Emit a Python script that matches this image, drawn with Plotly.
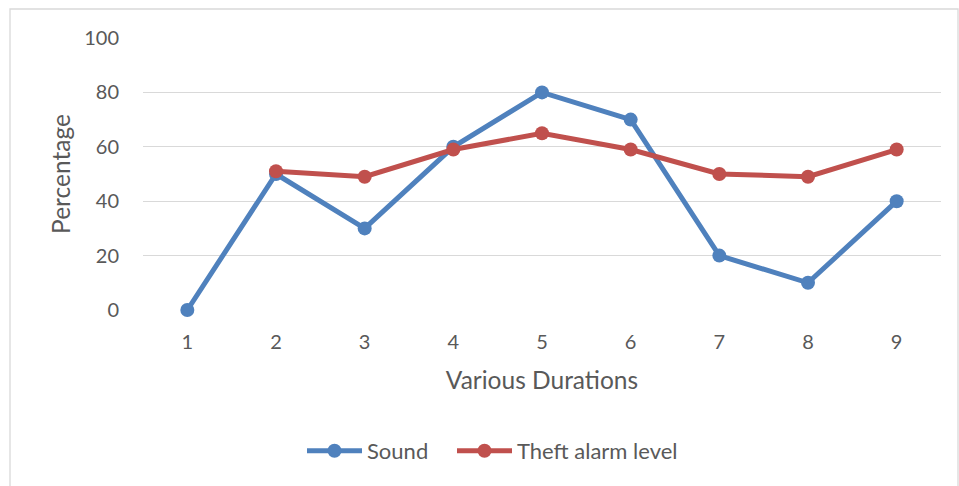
import plotly.graph_objects as go

durations = [1, 2, 3, 4, 5, 6, 7, 8, 9]
sound = [0, 50, 30, 60, 80, 70, 20, 10, 40]
theft_x = [2, 3, 4, 5, 6, 7, 8, 9]
theft = [51, 49, 59, 65, 59, 50, 49, 59]
y_ticks = [0, 20, 40, 60, 80, 100]

W, H = 959, 486
L, R, T, B = 143, 18, 38, 176
pw, ph = W - L - R, H - T - B

def px_x(p):
    return (p - L) / pw

def px_y(p):
    return (H - B - p) / ph

FONT = "Lato, 'Open Sans', sans-serif"
GREY = "#595959"

fig = go.Figure()
fig.add_trace(go.Scatter(
    x=durations, y=sound, name="Sound", mode="lines+markers",
    line=dict(color="#4F81BD", width=5),
    marker=dict(color="#4F81BD", size=14),
    legend="legend", cliponaxis=False,
))
fig.add_trace(go.Scatter(
    x=theft_x, y=theft, name="Theft alarm level", mode="lines+markers",
    line=dict(color="#C0504D", width=5),
    marker=dict(color="#C0504D", size=14),
    legend="legend2", cliponaxis=False,
))

leg_common = dict(orientation="h", xanchor="left", yanchor="top",
                  font=dict(size=22, color=GREY), itemwidth=55,
                  bgcolor="rgba(0,0,0,0)")

fig.update_layout(
    width=W, height=H,
    margin=dict(l=L, r=R, t=T, b=B, autoexpand=False),
    paper_bgcolor="white", plot_bgcolor="white",
    font=dict(family=FONT, size=20, color=GREY),
    showlegend=True,
    legend=dict(x=px_x(302), y=px_y(430), **leg_common),
    legend2=dict(x=px_x(452), y=px_y(430), **leg_common),
    xaxis=dict(range=[0.5, 9.5], tickvals=durations, ticktext=[str(d) for d in durations],
               showgrid=False, zeroline=False, showline=False, ticks="",
               ticklabelstandoff=18,
               tickfont=dict(size=20, color=GREY),
               title=dict(text="Various Durations", font=dict(size=24.5, color=GREY), standoff=19)),
    yaxis=dict(range=[0, 100], tickvals=y_ticks, showgrid=True, gridcolor="#D9D9D9", gridwidth=1.4,
               zeroline=False, showline=False, ticks="", ticklabelstandoff=23,
               tickfont=dict(size=20, color=GREY),
               title=dict(text="Percentage", font=dict(size=24.5, color=GREY), standoff=6)),
    shapes=[dict(type="rect", xref="paper", yref="paper",
                 x0=px_x(10), x1=px_x(958), y0=px_y(500), y1=px_y(9),
                 line=dict(color="#D9D9D9", width=1.3), fillcolor="rgba(0,0,0,0)", layer="below")],
)

fig.write_html("out.html", config={"displayModeBar": False},
               post_script="document.body.style.margin='0';document.body.style.overflow='hidden';")
